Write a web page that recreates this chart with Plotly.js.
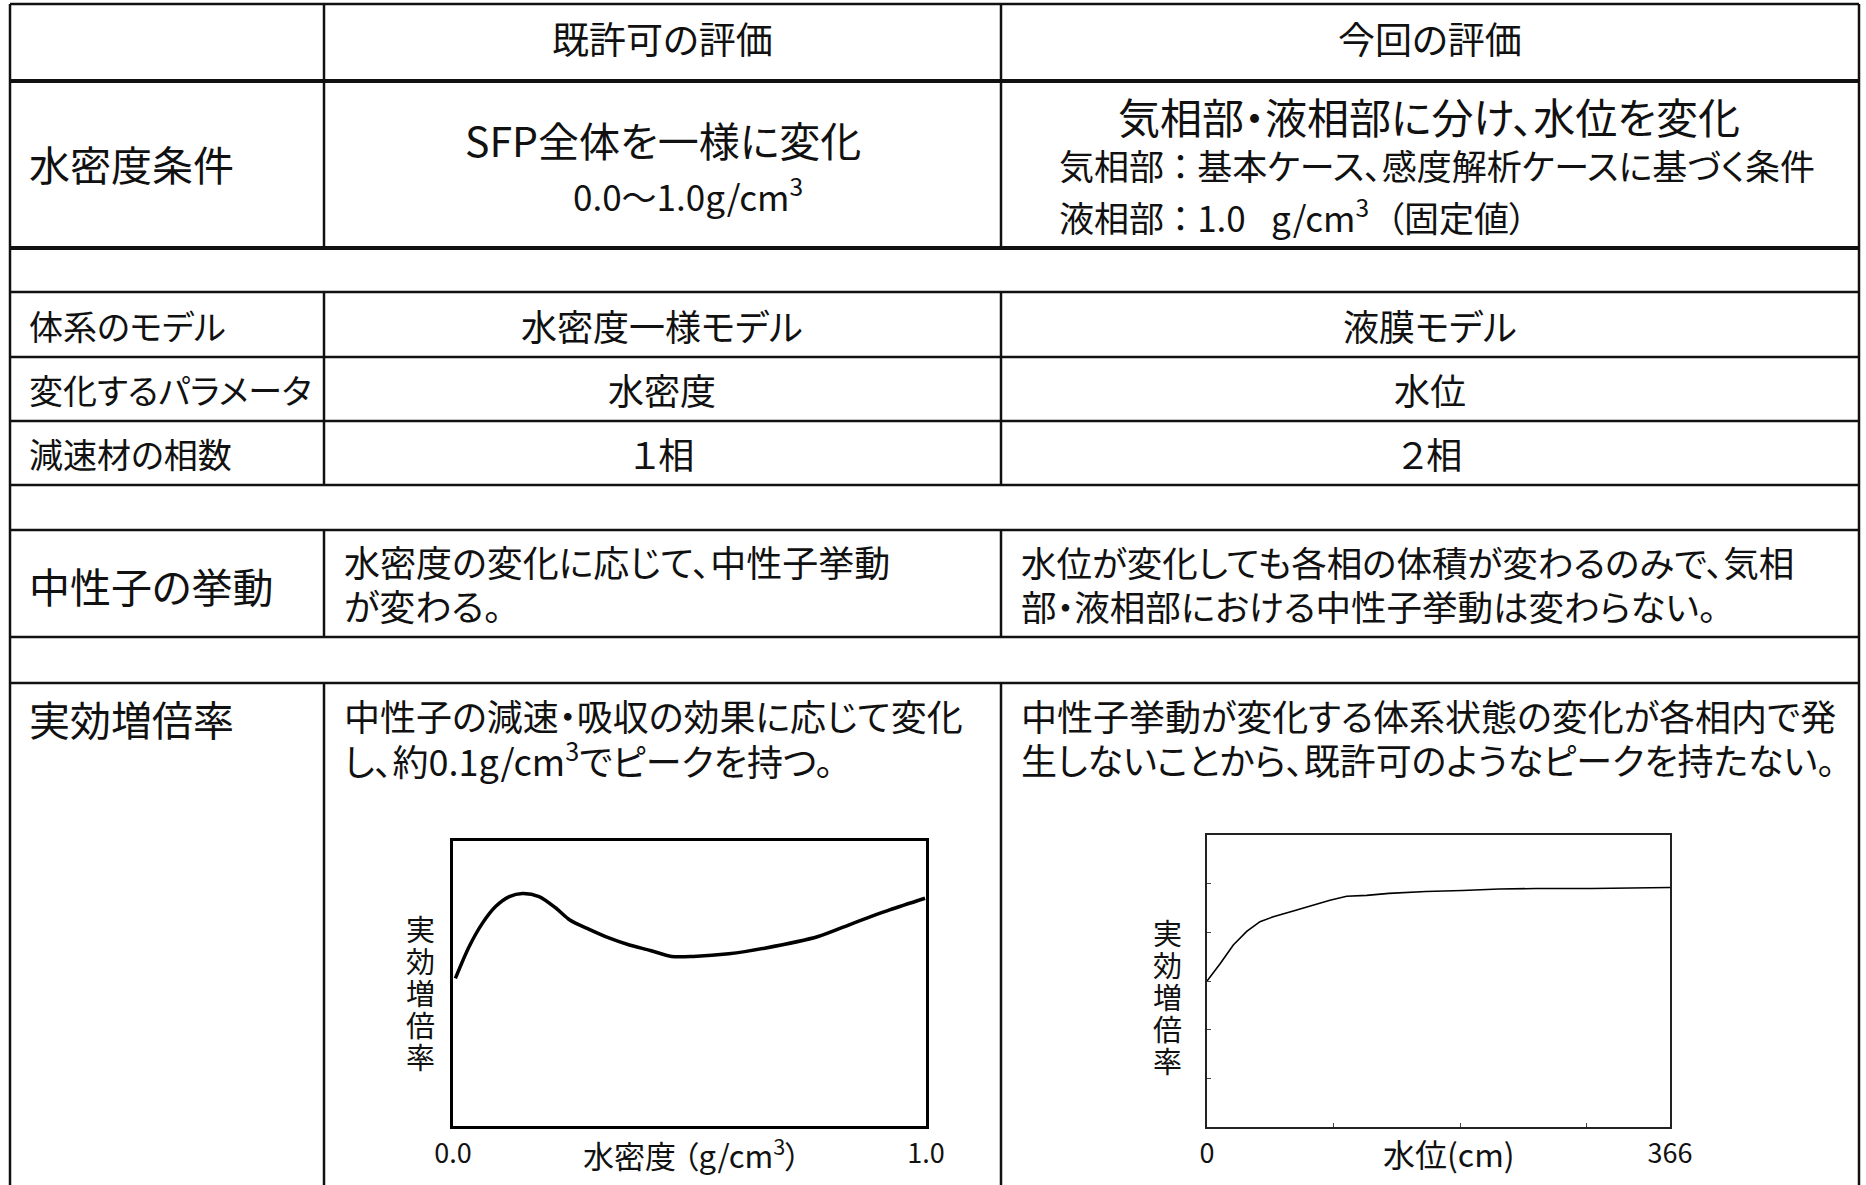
<!DOCTYPE html>
<html lang="ja">
<head>
<meta charset="UTF-8">
<title>既許可の評価と今回の評価</title>
<script src="https://cdn.plot.ly/plotly-3.0.1.min.js"></script>
<style>
    body { margin: 0; background: #fff; overflow: hidden; }
    #chart { width: 1866px; height: 1185px; }
    /* proportional kana, closer to the original Meiryo look */
    svg text { font-feature-settings: "palt" 1; }
</style>
</head>
<body>
<div id="chart"></div>
<script>
// ---- table text ----
const headers = ['既許可の評価', '今回の評価'];
const rowLabels = ['水密度条件', '体系のモデル', '変化するパラメータ', '減速材の相数', '中性子の挙動', '実効増倍率'];
const prevCond = ['SFP全体を一様に変化', '0.0〜1.0g/cm<sup>3</sup>'];
const newCond = ['気相部・液相部に分け、水位を変化',
                 '気相部 ： 基本ケース、感度解析ケースに基づく条件',
                 '液相部 ： 1.0\u2002 g/cm<sup>3</sup>\u2002（固定値）'];
const prevShort = ['水密度一様モデル', '水密度', '１相'];
const newShort = ['液膜モデル', '水位', '２相'];
const prevNeutron = ['水密度の変化に応じて、中性子挙動', 'が変わる。'];
const newNeutron = ['水位が変化しても各相の体積が変わるのみで、気相', '部・液相部における中性子挙動は変わらない。'];
const prevKeff = ['中性子の減速・吸収の効果に応じて変化', 'し、約0.1g/cm<sup>3</sup>でピークを持つ。'];
const newKeff = ['中性子挙動が変化する体系状態の変化が各相内で発', '生しないことから、既許可のようなピークを持たない。'];
const keffTitle = ['実', '効', '増', '倍', '率'];

// ---- chart data (relative units) ----
const densityX = [0.005, 0.034, 0.062, 0.090, 0.119, 0.147, 0.182, 0.218, 0.247, 0.288,
                  0.331, 0.373, 0.417, 0.462, 0.508, 0.583, 0.659, 0.772, 0.847, 0.923, 0.998];
const densityK = [0.518, 0.629, 0.711, 0.770, 0.805, 0.816, 0.805, 0.764, 0.723, 0.690,
                  0.659, 0.635, 0.616, 0.595, 0.595, 0.604, 0.624, 0.665, 0.712, 0.758, 0.799];
const densityTicks = ['0.0', '1.0'];

const levelX = [0, 10.5, 20.8, 31.4, 41.9, 52.4, 68.2, 84.0, 97.2, 110.4, 126.2, 143.8, 173, 202, 231, 260, 304, 366];
const levelK = [0.850, 0.868, 0.887, 0.901, 0.911, 0.916, 0.922, 0.928, 0.933, 0.937, 0.938,
                0.940, 0.942, 0.943, 0.9445, 0.945, 0.945, 0.946];
const levelTicks = ['0', '366'];

// ---- helpers: pixel -> paper ----
const W = 1866, H = 1185;
const px = x => x / W;
const py = y => 1 - y / H;
const FONT = '"Noto Sans CJK JP", "Noto Sans", sans-serif';
const INK = '#111';

const shapes = [];
function hline(y, w) {
    shapes.push({type: 'line', xref: 'paper', yref: 'paper', x0: px(10), x1: px(1859),
                 y0: py(y), y1: py(y), line: {color: INK, width: w}});
}
function vline(x, y0, y1, w) {
    shapes.push({type: 'line', xref: 'paper', yref: 'paper', x0: px(x), x1: px(x),
                 y0: py(y0), y1: py(y1), line: {color: INK, width: w}});
}

// table grid
hline(4, 2.5);
hline(81, 4);
hline(248, 4);
[292, 357, 421, 485, 530, 637, 683].forEach(y => hline(y, 2.5));
vline(10, 4, 1185, 2.5);
vline(1859, 4, 1185, 2.5);
[[4, 248], [292, 485], [530, 637], [683, 1185]].forEach(s => {
    vline(324, s[0], s[1], 2.5);
    vline(1001, s[0], s[1], 2.5);
});

const annotations = [];
function label(text, x, y, size, anchor) {
    annotations.push({text: text, x: px(x), y: py(y), xref: 'paper', yref: 'paper',
                      xanchor: anchor || 'center', yanchor: 'middle', showarrow: false,
                      align: anchor || 'center', font: {family: FONT, size: size, color: INK}});
}

// header
label(headers[0], 662, 38, 37);
label(headers[1], 1430, 38, 37);

// row labels
label(rowLabels[0], 27, 163, 41, 'left');
label(rowLabels[1], 27, 325, 34, 'left');
label(rowLabels[2], 27, 389, 34, 'left');
label(rowLabels[3], 27, 453, 34, 'left');
label(rowLabels[4], 27, 585, 41, 'left');
label(rowLabels[5], 27, 718, 41, 'left');

// water density condition
label(prevCond[0], 663, 139, 41);
label(prevCond[1], 688, 194, 35);
label(newCond[0], 1429, 115, 42);
label(newCond[1], 1057, 165, 35, 'left');
label(newCond[2], 1057, 216, 35, 'left');

// short rows
[325, 389, 453].forEach((y, i) => {
    label(prevShort[i], 662, y, 36);
    label(newShort[i], 1430, y, 36);
});

// neutron behaviour
label(prevNeutron[0], 342, 561, 36, 'left');
label(prevNeutron[1], 342, 605, 36, 'left');
label(newNeutron[0], 1019, 561, 35.5, 'left');
label(newNeutron[1], 1019, 605, 35.5, 'left');

// keff text
label(prevKeff[0], 342, 715, 36, 'left');
label(prevKeff[1], 342, 759, 36, 'left');
label(newKeff[0], 1019, 715, 36, 'left');
label(newKeff[1], 1019, 759, 36, 'left');

// axis titles of the small charts
label('水密度 （g/cm<sup>3</sup>）', 692, 1153, 31);
label('水位(cm)', 1449, 1153, 32);
keffTitle.forEach((c, i) => {
    label(c, 420, 928 + i * 32, 29);
    label(c, 1167, 932 + i * 32, 29);
});

const traces = [
    {x: densityX, y: densityK, xaxis: 'x', yaxis: 'y', type: 'scatter', mode: 'lines',
     line: {color: '#000', width: 3.5, shape: 'spline', smoothing: 0.8}, hoverinfo: 'skip'},
    {x: levelX, y: levelK, xaxis: 'x2', yaxis: 'y2', type: 'scatter', mode: 'lines',
     line: {color: '#000', width: 1.6}, hoverinfo: 'skip'}
];

const tickFont = {family: FONT, size: 27, color: INK};
const layout = {
    width: W, height: H,
    margin: {l: 0, r: 0, t: 0, b: 0},
    paper_bgcolor: '#fff', plot_bgcolor: '#fff',
    showlegend: false,
    xaxis: {domain: [px(453), px(926)], range: [0, 1], showline: true, mirror: true,
            linecolor: '#000', linewidth: 3, showgrid: false, zeroline: false,
            tickvals: [0, 1], ticktext: densityTicks, ticks: '', tickfont: tickFont,
            ticklabelstandoff: 2, fixedrange: true},
    yaxis: {domain: [py(1126), py(841)], range: [0, 1], showline: true, mirror: true,
            linecolor: '#000', linewidth: 3, showgrid: false, zeroline: false,
            showticklabels: false, ticks: '', fixedrange: true},
    xaxis2: {domain: [px(1207), px(1670)], range: [0, 366], anchor: 'y2', showline: true, mirror: true,
             linecolor: '#222', linewidth: 1.8, showgrid: false, zeroline: false,
             tickvals: [0, 366], ticktext: levelTicks, ticks: '', tickfont: tickFont,
             ticklabelstandoff: 2,
             minor: {tickvals: [100, 200, 300], ticks: 'inside', ticklen: 4, tickwidth: 1,
                     tickcolor: '#444', showgrid: false},
             fixedrange: true},
    yaxis2: {domain: [py(1127), py(835)], range: [0.70, 1.00], anchor: 'x2', showline: true, mirror: true,
             linecolor: '#222', linewidth: 1.8, showgrid: false, zeroline: false,
             tickvals: [0.75, 0.80, 0.85, 0.90, 0.95], ticks: 'inside', ticklen: 4,
             tickwidth: 1, tickcolor: '#444', showticklabels: false, fixedrange: true},
    shapes: shapes,
    annotations: annotations
};

Plotly.newPlot('chart', traces, layout, {displayModeBar: false, staticPlot: true});
</script>
</body>
</html>
